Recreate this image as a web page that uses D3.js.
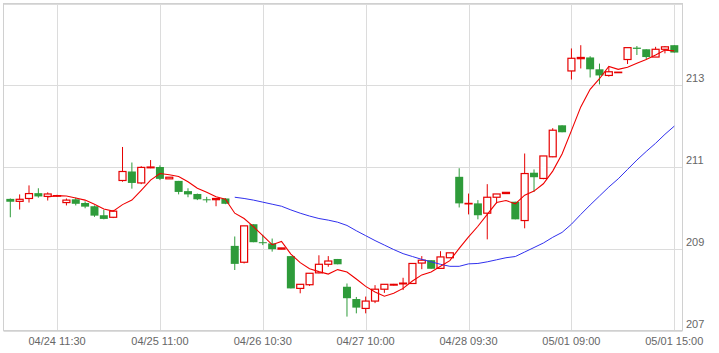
<!DOCTYPE html>
<html><head><meta charset="utf-8">
<script src="https://cdn.jsdelivr.net/npm/d3@7"></script>
<style>body{margin:0;background:#fff;overflow:hidden}svg{display:block}</style>
</head><body><svg id="c" width="719" height="353"></svg>
<script>
const opens  = [210.22,210.16,210.23,210.36,210.28,210.29,210.13,210.21,210.12,210.04,209.82,209.77,210.67,210.89,210.61,210.98,211.00,210.71,210.66,210.41,210.34,210.21,210.20,210.23,209.07,208.67,209.60,209.16,209.13,208.99,208.82,208.03,208.12,208.41,208.62,208.75,208.07,207.77,207.54,207.72,208.01,208.11,208.14,208.15,208.65,208.72,208.52,208.78,210.76,210.10,210.11,209.87,210.26,210.35,210.15,209.69,210.86,210.72,211.25,212.02,213.35,213.65,213.68,213.39,213.24,213.31,213.63,213.92,213.88,213.69,213.88,213.98];
const highs  = [210.23,210.33,210.55,210.48,210.38,210.32,210.23,210.25,210.16,210.06,209.95,209.95,211.49,211.11,211.02,211.17,211.04,210.75,210.66,210.48,210.35,210.27,210.23,210.24,209.30,209.56,209.60,209.34,209.25,209.02,208.82,208.13,208.40,208.84,208.82,208.75,208.15,207.82,207.83,208.11,208.13,208.14,208.29,208.64,208.82,208.72,208.94,208.90,210.97,210.35,210.19,210.58,210.34,210.38,210.15,211.33,210.94,211.27,211.95,212.02,213.90,213.98,213.71,213.53,213.45,213.32,213.92,213.96,213.88,213.94,213.96,213.98];
const lows   = [209.77,209.96,210.13,210.25,210.18,210.27,210.06,210.06,209.99,209.78,209.72,209.75,210.64,210.47,210.58,210.97,210.68,210.71,210.33,210.26,210.19,210.13,210.04,210.09,208.48,208.64,209.16,209.09,208.93,208.99,208.03,207.91,208.09,208.40,208.56,208.62,207.34,207.42,207.42,207.67,207.92,208.10,207.99,208.15,208.50,208.51,208.52,208.78,210.01,209.84,209.72,209.23,210.11,210.35,209.72,209.50,210.39,210.70,211.24,211.85,213.14,213.41,213.19,213.02,213.21,213.30,213.52,213.74,213.63,213.69,213.78,213.80];
const closes = [210.15,210.21,210.35,210.28,210.34,210.30,210.19,210.10,210.03,209.81,209.73,209.92,210.89,210.61,210.99,211.00,210.71,210.75,210.39,210.33,210.21,210.20,210.23,210.10,208.63,209.56,209.16,209.15,208.99,209.02,208.03,208.13,208.40,208.62,208.70,208.62,207.79,207.56,207.72,208.01,208.13,208.13,208.16,208.64,208.72,208.51,208.80,208.90,210.11,210.11,209.82,210.26,210.34,210.38,209.72,210.84,210.75,211.27,211.90,211.85,213.66,213.68,213.39,213.24,213.33,213.32,213.92,213.89,213.69,213.88,213.94,213.80];
const maShort = [null,null,null,null,210.27,210.30,210.29,210.24,210.19,210.09,209.97,209.92,210.08,210.19,210.43,210.68,210.84,210.81,210.77,210.64,210.48,210.38,210.27,210.21,209.87,209.74,209.54,209.32,209.10,209.18,208.87,208.66,208.51,208.44,208.38,208.49,208.43,208.26,208.08,207.94,207.84,207.91,208.03,208.21,208.36,208.43,208.57,208.71,209.01,209.29,209.55,209.84,210.13,210.18,210.10,210.31,210.41,210.59,210.90,211.32,211.89,212.47,212.90,213.16,213.46,213.39,213.44,213.54,213.63,213.74,213.86,213.84];
const maLong = [null,null,null,null,null,null,null,null,null,null,null,null,null,null,null,null,null,null,null,null,null,null,null,null,210.26,210.23,210.19,210.14,210.09,210.04,209.95,209.87,209.80,209.74,209.70,209.65,209.57,209.44,209.32,209.20,209.09,208.98,208.88,208.81,208.74,208.68,208.62,208.57,208.57,208.63,208.64,208.68,208.73,208.78,208.81,208.92,209.03,209.14,209.28,209.40,209.60,209.84,210.07,210.29,210.51,210.71,210.94,211.17,211.38,211.58,211.80,212.00];
const tickIndex = [5,16,27,38,49,60,71];
const tickLabels = ["04/24 11:30","04/25 11:00","04/26 10:30","04/27 10:00","04/28 09:30","05/01 09:00","05/01 15:00"];
const yLabelValues = [207,209,211,213];
const yGridValues = [207,209,211,213,215];

const svg = d3.select("#c");
const L = 3.5, R = 682.5, T = 3.5, B = 330.5;
const idx = d3.range(closes.length);
const x = d3.scalePoint().domain(idx).range([10.3, 674.3]);
const y = d3.scaleLinear().domain([207, 215]).range([B, T]);
const font = "'Liberation Sans', Arial, sans-serif";

const grid = svg.append("g").attr("stroke", "#dcdcdc").attr("stroke-width", 1);
yGridValues.forEach(v => {
  const yy = Math.round(y(v)) + 0.5;
  grid.append("line").attr("x1", L).attr("x2", R).attr("y1", yy).attr("y2", yy);
});
tickIndex.forEach(i => {
  const xx = Math.round(x(i)) + 0.5;
  grid.append("line").attr("x1", xx).attr("x2", xx).attr("y1", T).attr("y2", B);
});
// frame
svg.append("rect").attr("x", L).attr("y", T).attr("width", R - L).attr("height", B - T)
  .attr("fill", "none").attr("stroke", "#d0d0d0");

// x labels
svg.append("g").selectAll("text").data(tickIndex).join("text")
  .attr("x", i => x(i)).attr("y", 345).attr("text-anchor", "middle")
  .attr("font-family", font).attr("font-size", 11).attr("fill", "#666")
  .text((d, k) => tickLabels[k]);
// y labels
svg.append("g").selectAll("text").data(yLabelValues).join("text")
  .attr("x", 686).attr("y", v => y(v) - 3).attr("font-family", font)
  .attr("font-size", 11).attr("fill", "#666").text(v => v);

const UP = "#e60000", DOWN = "#2e9b3a";
const cg = svg.append("g");
idx.forEach(i => {
  const cx = x(i);
  const o = opens[i], c = closes[i], h = highs[i], l = lows[i];
  const up = c >= o;
  const col = up ? UP : DOWN;
  cg.append("line").attr("x1", cx).attr("x2", cx).attr("y1", y(h)).attr("y2", y(l))
    .attr("stroke", col).attr("stroke-width", 1);
  const top = y(Math.max(o, c)), bot = y(Math.min(o, c));
  if (up) {
    cg.append("rect").attr("x", cx - 3.5).attr("width", 7)
      .attr("y", top).attr("height", Math.max(bot - top, 0.5))
      .attr("fill", "#fff").attr("stroke", col).attr("stroke-width", 1.2);
  } else {
    cg.append("rect").attr("x", cx - 4).attr("width", 8)
      .attr("y", top).attr("height", Math.max(bot - top, 1))
      .attr("fill", col);
  }
});

const line = d3.line().defined(d => d != null).x((d, i) => x(i)).y(d => y(d));
svg.append("path").attr("d", line(maLong)).attr("fill", "none")
  .attr("stroke", "#3030ee").attr("stroke-width", 1);
svg.append("path").attr("d", line(maShort)).attr("fill", "none")
  .attr("stroke", "#f00000").attr("stroke-width", 1.1);
</script></body></html>
